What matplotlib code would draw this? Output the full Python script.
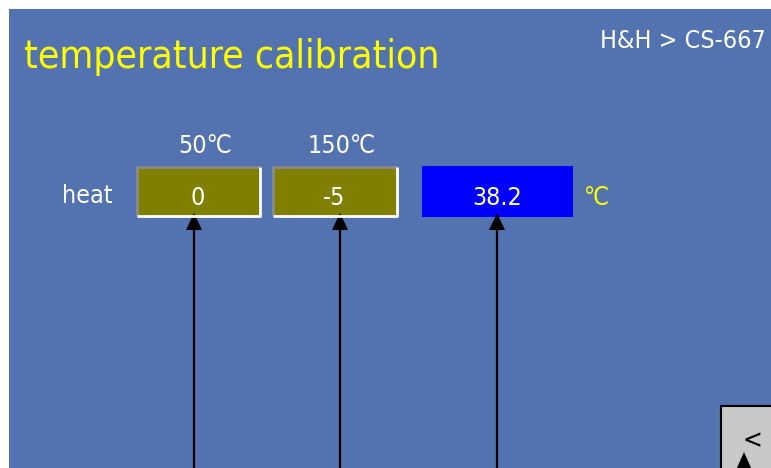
import matplotlib
matplotlib.use("Agg")
import matplotlib.pyplot as plt
from matplotlib.patches import Rectangle, Polygon

W, H = 771, 468

plt.rcParams["font.family"] = ["DejaVu Sans"]
plt.rcParams["font.stretch"] = "condensed"

title = "temperature calibration"
crumb = "H&H > CS-667"
row_label = "heat"
set_points = ["50℃", "150℃"]
offsets = ["0", "-5"]
reading = "38.2"
unit = "℃"

bg = "#5273B0"
olive = "#808000"
blue = "#0000FF"
yellow = "#FFFF00"

fig = plt.figure(figsize=(W / 100, H / 100), dpi=100)
ax = fig.add_axes([0, 0, 1, 1])
ax.set_xlim(0, W)
ax.set_ylim(H, 0)
ax.axis("off")
fig.patch.set_facecolor("white")

# panel background (white strip left and top)
ax.add_patch(Rectangle((9, 9), W - 9, H - 9, facecolor=bg, edgecolor="none"))

ax.text(24, 68, title, color=yellow, fontsize=28, va="baseline", ha="left")
ax.text(766, 48, crumb, color="white", fontsize=18, va="baseline", ha="right")
ax.text(113, 203, row_label, color="white", fontsize=18, va="baseline", ha="right")

# offset boxes (sunken look)
boxes = [(137, 260), (273, 397)]
for (x0, x1), sp, off in zip(boxes, set_points, offsets):
    ax.add_patch(Rectangle((x0, 167), x1 - x0, 49, facecolor=olive, edgecolor="none"))
    ax.plot([x0, x0, x1], [216, 167, 167], color="#8c8c8c", lw=2, solid_capstyle="butt")
    ax.plot([x0, x1, x1], [216, 216, 167], color="white", lw=2, solid_capstyle="butt")
    xc = (x0 + x1) / 2
    ax.text(xc - 1, 205, off, color="white", fontsize=18, va="baseline", ha="center")
    ax.text(xc + 7, 153, sp, color="white", fontsize=18, va="baseline", ha="center")

# measured value
ax.add_patch(Rectangle((422, 166), 151, 51, facecolor=blue, edgecolor="none"))
ax.text(497, 205, reading, color="white", fontsize=18, va="baseline", ha="center")
ax.text(597, 205, unit, color=yellow, fontsize=18, va="baseline", ha="center")

# pointer arrows
for xa in [194, 340, 497]:
    ax.plot([xa, xa], [H, 226], color="black", lw=1.6)
    ax.add_patch(Polygon([(xa - 8, 230), (xa + 8, 230), (xa, 213)], closed=True,
                         facecolor="black", edgecolor="none"))

# back button
ax.add_patch(Rectangle((721, 406), 60, 70, facecolor="#C8C8C8", edgecolor="black", lw=1.5))
ax.text(752, 441, "<", color="black", fontsize=19, va="center", ha="center")
ax.add_patch(Polygon([(736, 470), (752, 470), (744, 452)], closed=True,
                     facecolor="black", edgecolor="none"))

fig.savefig("out.png", dpi=100)
